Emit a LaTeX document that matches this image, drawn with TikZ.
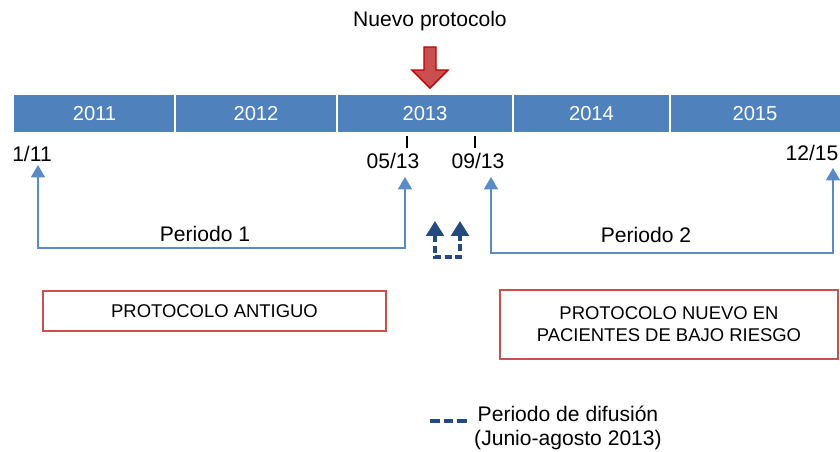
\documentclass[tikz,border=0pt]{standalone}
\usepackage{fontspec}
\setmainfont{Liberation Sans}
\usetikzlibrary{arrows.meta,positioning}
\definecolor{barblue}{HTML}{4F81BD}
\definecolor{lineblue}{HTML}{5B8BC7}
\definecolor{darkblue}{HTML}{244A80}
\definecolor{boxred}{HTML}{C8504E}
\definecolor{arrowred}{HTML}{C00000}

\begin{document}
\begin{tikzpicture}[x=0.02cm,y=-0.02cm,
    yeartxt/.style={text=white, font=\fontsize{11.5}{13}\selectfont},
    datetxt/.style={font=\fontsize{12}{14}\selectfont},
    perarrow/.style={draw=lineblue, line width=0.6pt, {Triangle[width=8pt,length=7pt]}-{Triangle[width=8pt,length=7pt]}},
    difarrow/.style={draw=darkblue, line width=2pt, dash pattern=on 4pt off 2pt, {Triangle[width=10pt,length=8.5pt]}-{Triangle[width=10pt,length=8.5pt]}},
    redbox/.style={draw=boxred, line width=0.8pt, align=center, font=\fontsize{10.5}{12.5}\selectfont}]
    \useasboundingbox (0,0) rectangle (840,451);

    % timeline bar
    \foreach \a/\b/\yr in {14/175/2011, 175/337/2012, 337/513/2013, 513/670/2014, 670/840/2015} {
        \fill[barblue] (\a,95) rectangle (\b,132);
        \node[yeartxt] (y\yr) at ({(\a+\b)/2},113.5) {\yr};
    }
    \foreach \x in {175,337,513,670}
        \draw[white, line width=0.7pt] (\x,95) -- (\x,132);

    % new protocol marker
    \node[font=\fontsize{12}{14}\selectfont] (nuevo) at (430,21) {Nuevo protocolo};
    \filldraw[fill=boxred, draw=arrowred, line width=0.8pt]
        (424,47) -- (436,47) -- (436,70) -- (448,70) -- (430,88) -- (412,70) -- (424,70) -- cycle;

    % ticks and dates
    \draw[line width=0.7pt] (407,136) -- (407,148);
    \draw[line width=0.7pt] (475,136) -- (475,148);
    \node[datetxt] (d111) at (32,154) {1/11};
    \node[datetxt] (d0513) at (393,161) {05/13};
    \node[datetxt] (d0913) at (478,161) {09/13};
    \node[datetxt] (d1215) at (812,153) {12/15};

    % periods
    \coordinate (t111) at (38,165);
    \coordinate (t0513) at (405,177);
    \coordinate (t0913) at (491,177);
    \coordinate (t1215) at (833,168);
    \draw[perarrow] (t111) -- ++(0,83) -| (t0513);
    \draw[perarrow] (t0913) -- ++(0,76) -| (t1215);
    \node[datetxt] (p1) at (205,234) {Periodo 1};
    \node[datetxt] (p2) at (646,235) {Periodo 2};

    % diffusion
    \coordinate (f1) at (435,221);
    \coordinate (f2) at (460,221);
    \draw[difarrow] (f1) -- ++(0,36) -| (f2);

    % boxes
    \node[redbox, minimum width=6.86cm, minimum height=0.8cm] (antiguo) at (214.5,311) {PROTOCOLO ANTIGUO};
    \node[redbox, minimum width=6.76cm, minimum height=1.38cm] (nuevobox) at (669,324.5) {PROTOCOLO NUEVO EN\\PACIENTES DE BAJO RIESGO};

    % legend
    \coordinate (l1) at (430,421);
    \coordinate (l2) at (468,421);
    \draw[draw=darkblue, line width=1.8pt, dash pattern=on 5.5pt off 2.3pt] (l1) -- (l2);
    \node[align=center, font=\fontsize{12}{13.6}\selectfont] (leyenda) at (568,428) {Periodo de difusión\\(Junio-agosto 2013)};
\end{tikzpicture}
\end{document}
